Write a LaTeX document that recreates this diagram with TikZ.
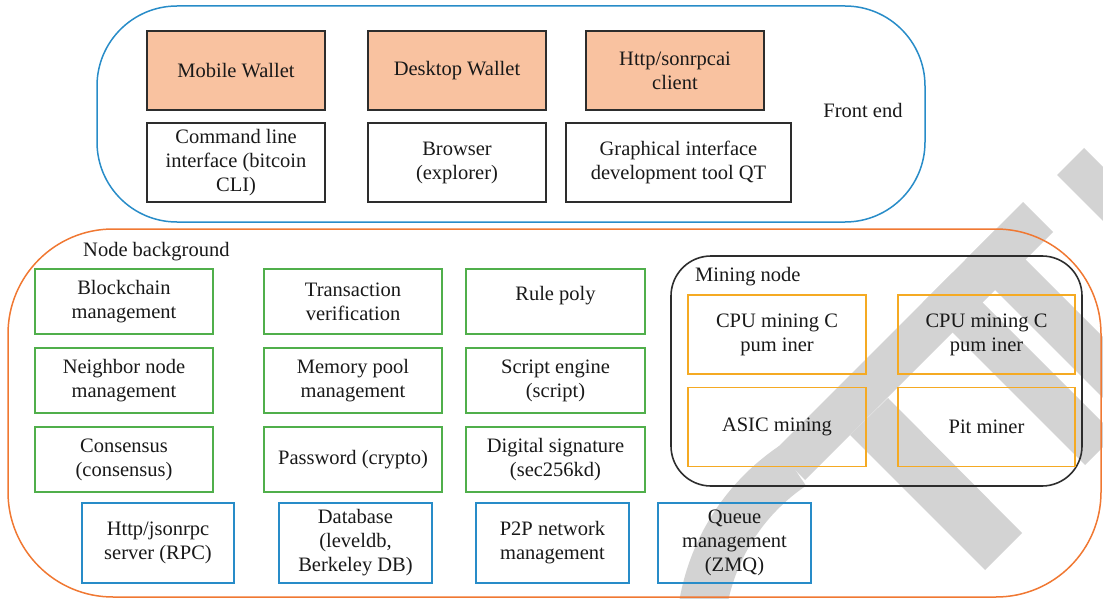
\documentclass[tikz,border=0pt]{standalone}
\usepackage{fontspec}
\setmainfont{Liberation Serif}
\definecolor{salmon}{RGB}{249,194,160}
\definecolor{darkline}{RGB}{45,45,45}
\definecolor{panelblue}{RGB}{40,140,200}
\definecolor{panelorange}{RGB}{240,120,50}
\definecolor{boxgreen}{RGB}{80,175,75}
\definecolor{boxgold}{RGB}{245,170,35}
\definecolor{wmgray}{RGB}{211,211,211}
\begin{document}
\begin{tikzpicture}[x=1pt,y=-1pt,
  lbl/.style={font=\fontsize{20.5}{24}\selectfont, align=center, inner sep=0pt, text=black!90},
  topbox/.style={lbl, draw=darkline, line width=1.6pt},
  wallet/.style={topbox, fill=salmon},
  greenbox/.style={lbl, draw=boxgreen, line width=1.6pt, minimum width=178pt, minimum height=65pt},
  bluebox/.style={lbl, draw=panelblue, line width=1.6pt, minimum width=152pt, minimum height=80pt},
  goldbox/.style={lbl, draw=boxgold, line width=1.6pt, minimum width=178pt, minimum height=79pt},
  wm/.style={fill=wmgray}
]
\useasboundingbox (0,0) rectangle (1103,599);
% watermark
\begin{scope}
\clip (0,0) rectangle (1103,599);
\fill[wm] (1023,202) -- (1053,232) -- (805,480) -- (775,450) -- cycle;
\fill[wm] (850,435) -- (888,398) -- (1022,533) -- (985,570) -- cycle;
\fill[wm] (922.5,302.5) -- (952.5,272.5) -- (1115,435) -- (1085,465) -- cycle;
\fill[wm] (965,260) -- (995.5,229.5) -- (1148,382) -- (1117.5,412.5) -- cycle;
\fill[wm] (1057,175) -- (1084,148) -- (1230,294) -- (1203,321) -- cycle;
\fill[wm] (910,640) ++(170:234) arc (170:236:234) -- ++(56:48) arc (236:170:186) -- cycle;
\end{scope}
% panels
\draw[panelblue, line width=1.5pt, rounded corners=80pt] (97,6) rectangle (925,222);
\draw[panelorange, line width=1.5pt, rounded corners=105pt] (8,229) rectangle (1101,597);
\draw[darkline, line width=1.6pt, rounded corners=40pt] (671,256) rectangle (1082,486);
% front end
\node[wallet, minimum width=178pt, minimum height=79pt] (mw) at (236,70.5) {Mobile Wallet};
\node[wallet, minimum width=178pt, minimum height=79pt] (dw) at (457,70.5) {Desktop Wallet};
\node[wallet, minimum width=178pt, minimum height=79pt] (hc) at (675,70.5) {Http/sonrpcai\\client};
\node[topbox, minimum width=178pt, minimum height=79pt] (cl) at (236,162.5) {Command line\\interface (bitcoin\\CLI)};
\node[topbox, minimum width=178pt, minimum height=79pt] (br) at (457,162.5) {Browser\\(explorer)};
\node[topbox, minimum width=225pt, minimum height=79pt] (gi) at (678.5,162.5) {Graphical interface\\development tool QT};
\node[lbl] (fe) at (863,110) {Front end};
% node background
\node[lbl, anchor=west] (nb) at (83,252) {Node background};
\node[greenbox] (bm) at (124,301.5) {Blockchain\\management};
\node[greenbox] (tv) at (353,301.5) {Transaction\\verification};
\node[greenbox, minimum width=179pt] (rp) at (555.5,301.5) {\raisebox{6pt}[\height][\depth]{Rule poly}};
\node[greenbox] (nn) at (124,380.5) {Neighbor node\\management};
\node[greenbox] (mp) at (353,380.5) {Memory pool\\management};
\node[greenbox, minimum width=179pt] (se) at (555.5,380.5) {Script engine\\(script)};
\node[greenbox] (cs) at (124,459.5) {Consensus\\(consensus)};
\node[greenbox] (pw) at (353,459.5) {Password (crypto)};
\node[greenbox, minimum width=179pt] (ds) at (555.5,459.5) {Digital signature\\(sec256kd)};
\node[bluebox] (rpc) at (158,543) {Http/jsonrpc\\server (RPC)};
\node[bluebox, minimum width=153pt] (db) at (355.5,543) {Database\\(leveldb,\\Berkeley DB)};
\node[bluebox, minimum width=153pt] (p2p) at (552.5,543) {P2P network\\management};
\node[bluebox, minimum width=153pt] (zmq) at (734.5,543) {Queue\\management\\(ZMQ)};
% mining node
\node[lbl, anchor=west] (mn) at (695,277) {Mining node};
\node[goldbox] (cpu1) at (777,334.5) {CPU mining C\\pum iner};
\node[goldbox, minimum width=177pt] (cpu2) at (986.5,334.5) {CPU mining C\\pum iner};
\node[goldbox] (asic) at (777,427) {ASIC mining};
\node[goldbox, minimum width=177pt] (pit) at (986.5,427) {Pit miner};
\end{tikzpicture}
\end{document}
